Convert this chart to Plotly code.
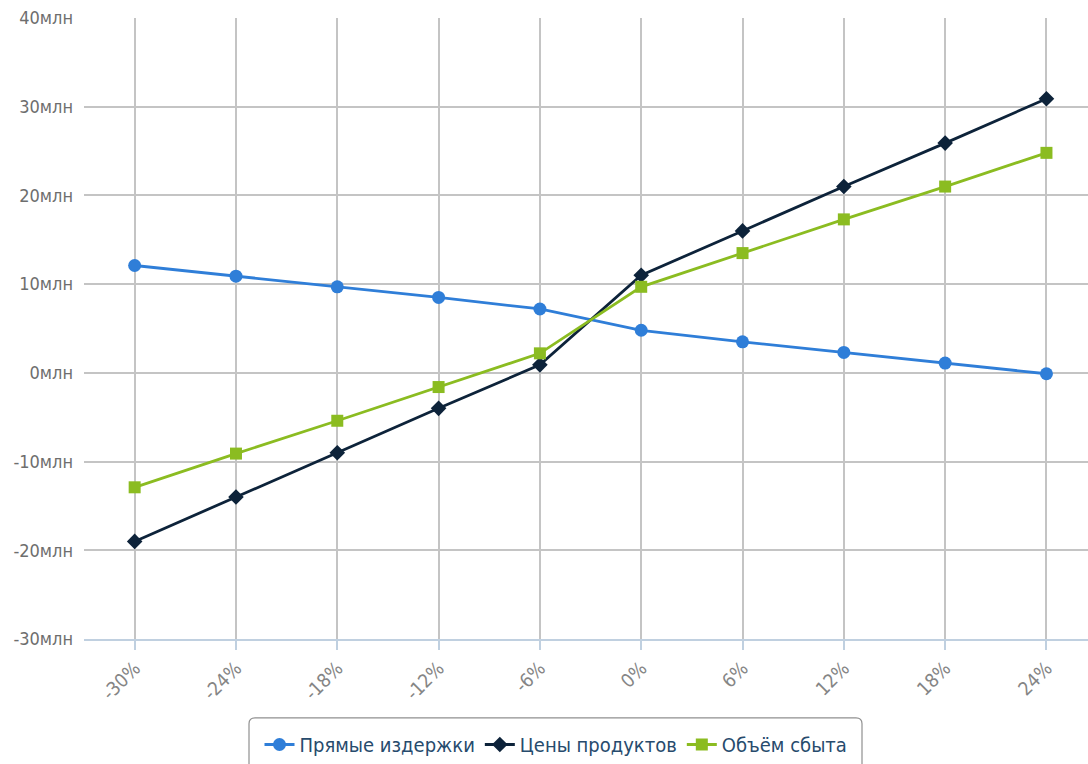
import plotly.graph_objects as go

categories = ["-30%", "-24%", "-18%", "-12%", "-6%", "0%", "6%", "12%", "18%", "24%"]
direct_costs = [12.1, 10.9, 9.7, 8.5, 7.2, 4.8, 3.5, 2.3, 1.1, -0.1]
product_prices = [-19.0, -14.0, -9.0, -4.0, 0.9, 11.0, 16.0, 21.0, 25.9, 30.9]
sales_volume = [-12.9, -9.1, -5.4, -1.6, 2.2, 9.7, 13.5, 17.3, 21.0, 24.8]
y_ticks = [-30, -20, -10, 0, 10, 20, 30, 40]
y_tick_text = [f"{v}млн" for v in y_ticks]

FONT = "DejaVu Sans Condensed, Liberation Sans Narrow, DejaVu Sans, sans-serif"

W, H = 1088, 764
ML, MR, MT, MB = 84, 0, 18, 124
PW, PH = W - ML - MR, H - MT - MB


def px_x(x):
    return (x - ML) / PW


def px_y(y):
    return (H - MB - y) / PH


series = [
    ("Прямые издержки", direct_costs, "#2f7ed8", "circle", 13),
    ("Цены продуктов", product_prices, "#0d233a", "diamond", 12),
    ("Объём сбыта", sales_volume, "#8bbc21", "square", 12),
]

fig = go.Figure()
x_idx = list(range(len(categories)))
for name, vals, color, symbol, size in series:
    fig.add_trace(go.Scatter(
        x=x_idx, y=vals, name=name, mode="lines+markers",
        line=dict(color=color, width=2.8),
        marker=dict(color=color, symbol=symbol, size=size, line=dict(width=0)),
    ))

# rounded legend frame (pixel geometry converted to paper units)
x0, x1, y0, y1, r = 249, 862, 719, 775, 6
rx, ry = r / PW, r / PH
X0, X1, Y0, Y1 = px_x(x0), px_x(x1), px_y(y0), px_y(y1)
frame = (
    f"M {X0 + rx},{Y0} L {X1 - rx},{Y0} Q {X1},{Y0} {X1},{Y0 - ry} "
    f"L {X1},{Y1 + ry} Q {X1},{Y1} {X1 - rx},{Y1} "
    f"L {X0 + rx},{Y1} Q {X0},{Y1} {X0},{Y1 + ry} "
    f"L {X0},{Y0 - ry} Q {X0},{Y0} {X0 + rx},{Y0} Z"
)

fig.update_layout(
    width=W, height=H,
    margin=dict(l=ML, r=MR, t=MT, b=MB),
    paper_bgcolor="white", plot_bgcolor="white",
    font=dict(family=FONT, size=18, color="#666666"),
    showlegend=True,
    legend=dict(
        orientation="h", xanchor="center", yanchor="top",
        x=px_x(556), y=px_y(726),
        bgcolor="rgba(0,0,0,0)", borderwidth=0,
        font=dict(family=FONT, size=20, color="#274b6d"),
        itemwidth=30, tracegroupgap=0,
    ),
    shapes=[dict(
        type="path", xref="paper", yref="paper", path=frame,
        line=dict(color="#909090", width=1.2), fillcolor="rgba(0,0,0,0)",
        layer="below",
    )],
    xaxis=dict(
        range=[-0.5, 9.41],
        tickmode="array", tickvals=x_idx, ticktext=categories,
        tickangle=-45,
        showgrid=True, gridcolor="#c4c4c4", gridwidth=1.5,
        showline=True, linecolor="#c0d0e0", linewidth=1.5,
        ticks="outside", ticklen=9, tickcolor="#c0d0e0", tickwidth=1.5,
        zeroline=False,
        tickfont=dict(family=FONT, size=19, color="#858585"),
    ),
    yaxis=dict(
        range=[-30, 40],
        tickmode="array", tickvals=y_ticks, ticktext=y_tick_text,
        showgrid=True, gridcolor="#c4c4c4", gridwidth=1.5,
        zeroline=False, showline=False, ticks="",
        ticklabelstandoff=10,
        tickfont=dict(family=FONT, size=18, color="#6e6e6e"),
    ),
)

fig.write_html("out.html")
